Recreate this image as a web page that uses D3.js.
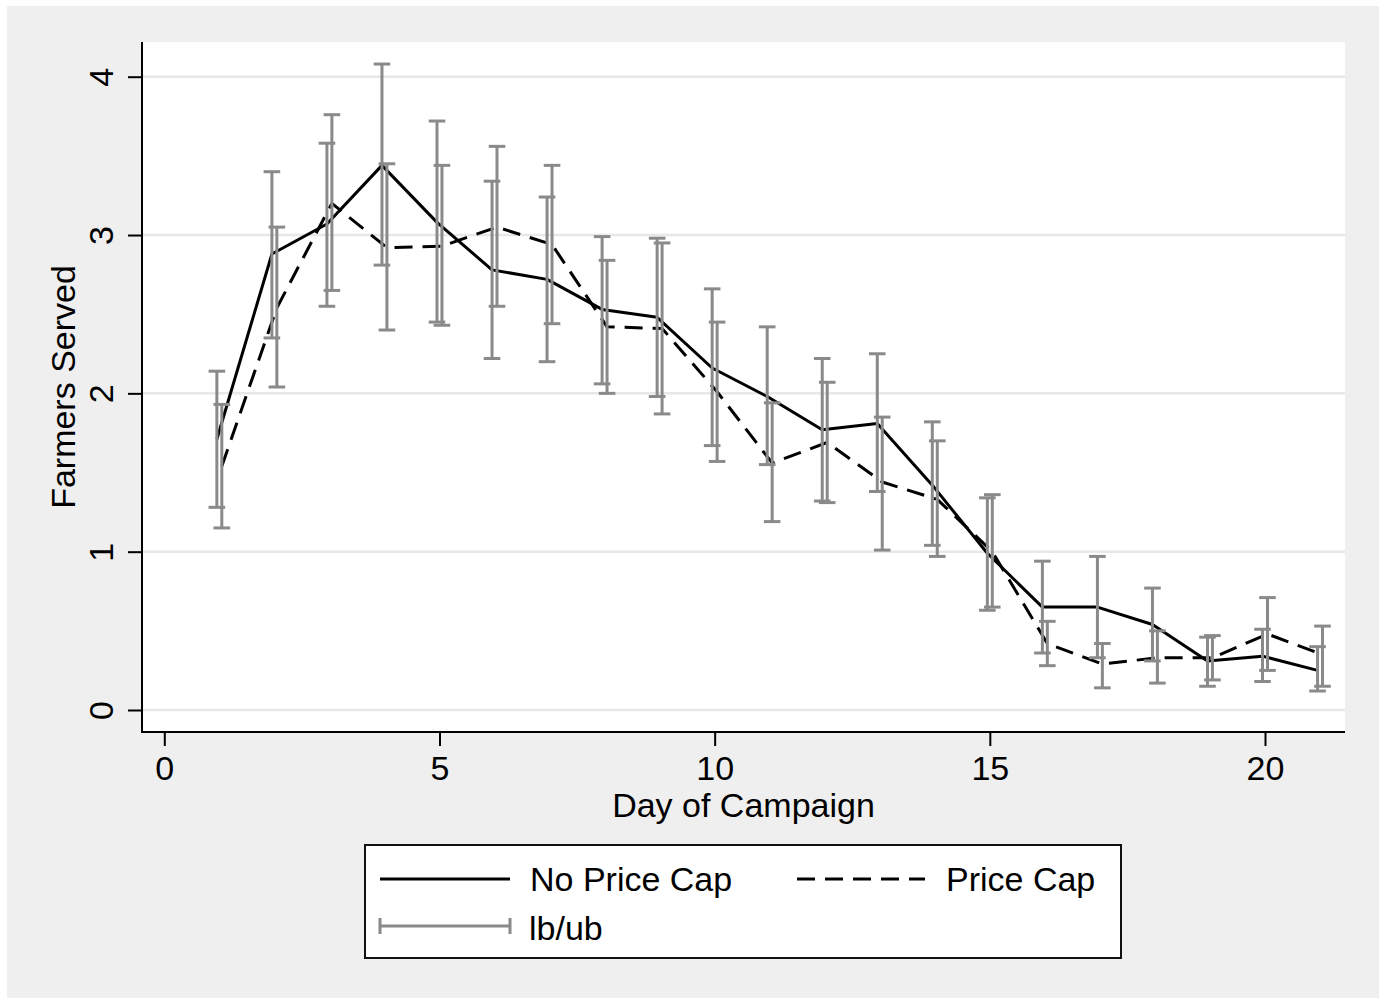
<!DOCTYPE html>
<html>
<head>
<meta charset="utf-8">
<script src="https://cdn.jsdelivr.net/npm/d3@7"></script>
<style>
  html, body { margin: 0; padding: 0; background: #fff; }
  svg { display: block; font-family: "Liberation Sans", Arial, Helvetica, sans-serif; }
</style>
</head>
<body>
<div id="root"></div>
<script>
// day of campaign
const days = [1, 2, 3, 4, 5, 6, 7, 8, 9, 10, 11, 12, 13, 14, 15, 16, 17, 18, 19, 20, 21];

// No Price Cap
const noCapMean = [1.71, 2.88, 3.07, 3.44, 3.08, 2.78, 2.72, 2.53, 2.48, 2.16, 1.98, 1.77, 1.81, 1.42, 0.99, 0.65, 0.65, 0.54, 0.31, 0.34, 0.25];
const noCapLb = [1.28, 2.35, 2.55, 2.81, 2.45, 2.22, 2.20, 2.06, 1.98, 1.67, 1.55, 1.32, 1.38, 1.04, 0.63, 0.36, 0.33, 0.31, 0.15, 0.18, 0.12];
const noCapUb = [2.14, 3.40, 3.58, 4.08, 3.72, 3.34, 3.24, 2.99, 2.98, 2.66, 2.42, 2.22, 2.25, 1.82, 1.34, 0.94, 0.97, 0.77, 0.46, 0.51, 0.40];

// Price Cap
const capMean = [1.54, 2.54, 3.20, 2.92, 2.93, 3.05, 2.94, 2.42, 2.41, 2.01, 1.56, 1.69, 1.44, 1.33, 1.00, 0.42, 0.29, 0.33, 0.33, 0.48, 0.35];
const capLb = [1.15, 2.04, 2.65, 2.40, 2.43, 2.55, 2.44, 2.00, 1.87, 1.57, 1.19, 1.31, 1.01, 0.97, 0.65, 0.28, 0.14, 0.17, 0.19, 0.25, 0.15];
const capUb = [1.93, 3.05, 3.76, 3.45, 3.44, 3.56, 3.44, 2.84, 2.95, 2.45, 1.94, 2.07, 1.85, 1.70, 1.36, 0.56, 0.42, 0.50, 0.47, 0.71, 0.53];

const xTicks = [0, 5, 10, 15, 20];
const yTicks = [0, 1, 2, 3, 4];
const legendLabels = ['No Price Cap', 'Price Cap', 'lb/ub'];

const W = 1385, H = 998;
const plot = { left: 142, right: 1345, top: 42, bottom: 732 };
const dodge = 0.045; // the two groups are shifted a bit apart on x
const barGray = '#8a8a8a';
const fontSize = 34;

const svg = d3.select('#root').append('svg')
  .attr('width', W)
  .attr('height', H);

// stata-ish outer background
svg.append('rect')
  .attr('x', 7).attr('y', 6)
  .attr('width', 1372).attr('height', 992)
  .attr('fill', '#efefef');

svg.append('rect')
  .attr('x', plot.left).attr('y', plot.top)
  .attr('width', plot.right - plot.left).attr('height', plot.bottom - plot.top)
  .attr('fill', '#fff');

const x = d3.scaleLinear().domain([0, 20]).range([164.3, 1265]);
const y = d3.scaleLinear().domain([0, 4]).range([710, 76.7]);

// grid
svg.append('g')
  .selectAll('line')
  .data(yTicks)
  .join('line')
  .attr('x1', plot.left).attr('x2', plot.right)
  .attr('y1', d => y(d)).attr('y2', d => y(d))
  .attr('stroke', '#e8e8e8')
  .attr('stroke-width', 2.5);

// axes
const yAxis = svg.append('g')
  .attr('transform', `translate(${plot.left},0)`)
  .call(d3.axisLeft(y).tickValues(yTicks).tickSize(14).tickSizeOuter(0).tickFormat(d3.format('d')));
yAxis.select('.domain').remove();
yAxis.selectAll('.tick line').attr('stroke', '#000').attr('stroke-width', 2);
yAxis.selectAll('.tick text')
  .attr('x', 0).attr('y', -29).attr('dy', 0)
  .attr('transform', 'rotate(-90)')
  .attr('text-anchor', 'middle')
  .attr('fill', '#000')
  .style('font-size', fontSize + 'px')
  .style('font-family', null);

const xAxis = svg.append('g')
  .attr('transform', `translate(0,${plot.bottom})`)
  .call(d3.axisBottom(x).tickValues(xTicks).tickSize(14).tickSizeOuter(0).tickFormat(d3.format('d')));
xAxis.select('.domain').remove();
xAxis.selectAll('.tick line').attr('stroke', '#000').attr('stroke-width', 2);
xAxis.selectAll('.tick text')
  .attr('y', 48).attr('dy', 0)
  .attr('fill', '#000')
  .style('font-size', fontSize + 'px')
  .style('font-family', null);

svg.append('path')
  .attr('d', `M${plot.left},${plot.top}V${plot.bottom}H${plot.right}`)
  .attr('fill', 'none')
  .attr('stroke', '#000')
  .attr('stroke-width', 2);

// axis titles
svg.append('text')
  .attr('x', (plot.left + plot.right) / 2)
  .attr('y', 817)
  .attr('text-anchor', 'middle')
  .style('font-size', fontSize + 'px')
  .text('Day of Campaign');

svg.append('text')
  .attr('transform', `translate(75,${(plot.top + plot.bottom) / 2}) rotate(-90)`)
  .attr('text-anchor', 'middle')
  .style('font-size', fontSize + 'px')
  .text('Farmers Served');

// series
const series = [
  { name: legendLabels[0], shift: -dodge, mean: noCapMean, lb: noCapLb, ub: noCapUb, dash: null },
  { name: legendLabels[1], shift: dodge, mean: capMean, lb: capLb, ub: capUb, dash: '18,10' }
];

const line = d3.line()
  .x(d => x(d.day))
  .y(d => y(d.v));

series.forEach(s => {
  const pts = days.map((d, i) => ({ day: d + s.shift, v: s.mean[i] }));
  svg.append('path')
    .datum(pts)
    .attr('d', line)
    .attr('fill', 'none')
    .attr('stroke', '#000')
    .attr('stroke-width', 3)
    .attr('stroke-linejoin', 'round')
    .attr('stroke-dasharray', s.dash);
});

const capHalf = 8.3;
series.forEach(s => {
  const bars = days.map((d, i) => ({ day: d + s.shift, lo: s.lb[i], hi: s.ub[i] }));
  const g = svg.append('g')
    .attr('stroke', barGray)
    .attr('stroke-width', 3);
  g.selectAll('.stem').data(bars).join('line')
    .attr('class', 'stem')
    .attr('x1', d => x(d.day)).attr('x2', d => x(d.day))
    .attr('y1', d => y(d.lo)).attr('y2', d => y(d.hi));
  g.selectAll('.capl').data(bars).join('line')
    .attr('class', 'capl')
    .attr('x1', d => x(d.day) - capHalf).attr('x2', d => x(d.day) + capHalf)
    .attr('y1', d => y(d.lo)).attr('y2', d => y(d.lo));
  g.selectAll('.caph').data(bars).join('line')
    .attr('class', 'caph')
    .attr('x1', d => x(d.day) - capHalf).attr('x2', d => x(d.day) + capHalf)
    .attr('y1', d => y(d.hi)).attr('y2', d => y(d.hi));
});

// legend
const lg = svg.append('g');
lg.append('rect')
  .attr('x', 365).attr('y', 845)
  .attr('width', 756).attr('height', 113)
  .attr('fill', '#fff')
  .attr('stroke', '#111')
  .attr('stroke-width', 2);

lg.append('line')
  .attr('x1', 380).attr('x2', 510).attr('y1', 879).attr('y2', 879)
  .attr('stroke', '#000').attr('stroke-width', 3);
lg.append('text')
  .attr('x', 530).attr('y', 891)
  .style('font-size', fontSize + 'px')
  .text(legendLabels[0]);

lg.append('line')
  .attr('x1', 797).attr('x2', 925).attr('y1', 879).attr('y2', 879)
  .attr('stroke', '#000').attr('stroke-width', 3)
  .attr('stroke-dasharray', '18,10');
lg.append('text')
  .attr('x', 946).attr('y', 891)
  .style('font-size', fontSize + 'px')
  .text(legendLabels[1]);

lg.append('path')
  .attr('d', 'M380,918V934M380,926H510M510,918V934')
  .attr('fill', 'none')
  .attr('stroke', barGray).attr('stroke-width', 3);
lg.append('text')
  .attr('x', 529).attr('y', 940)
  .style('font-size', fontSize + 'px')
  .text(legendLabels[2]);
</script>
</body>
</html>
